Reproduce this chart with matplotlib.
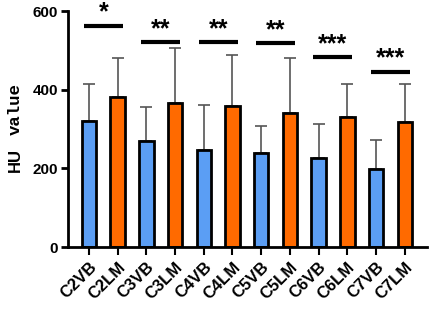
import matplotlib
matplotlib.use("Agg")
import matplotlib.pyplot as plt
import numpy as np

labels = ["C2VB", "C2LM", "C3VB", "C3LM", "C4VB", "C4LM",
          "C5VB", "C5LM", "C6VB", "C6LM", "C7VB", "C7LM"]
means = [320, 381, 269, 366, 247, 358, 239, 341, 226, 330, 198, 318]
err_top = [414, 480, 356, 506, 361, 488, 307, 480, 313, 414, 272, 414]

# significance: (left bar, right bar, line height, stars)
sig_pairs = [(0, 1), (2, 3), (4, 5), (6, 7), (8, 9), (10, 11)]
sig_heights = [562, 521, 521, 518, 483, 445]
sig_stars = ["*", "**", "**", "**", "***", "***"]

blue = "#5b9ef4"
orange = "#ff6a00"
colors = [blue if l.endswith("VB") else orange for l in labels]

plt.rcParams['font.family'] = ['Liberation Sans', 'DejaVu Sans']

fig = plt.figure(figsize=(4.29, 3.10), dpi=100)
ax = fig.add_axes([0.1585, 0.2032, 0.8365, 0.7613])

x = np.arange(len(labels))
errs = np.array(err_top) - np.array(means)
ax.errorbar(x, means, yerr=[np.zeros(len(x)), errs], fmt='none',
            ecolor='#555555', elinewidth=1.2, capsize=4, capthick=1.2, zorder=1)
ax.bar(x, means, width=0.5, color=colors, edgecolor='black', linewidth=2, zorder=2)

for (a, b), h, s in zip(sig_pairs, sig_heights, sig_stars):
    ax.plot([a - 0.18, b + 0.18], [h, h], color='black', lw=3, solid_capstyle='butt', clip_on=False)
    ax.text((a + b) / 2, h + 3, s, ha='center', va='bottom', fontsize=18,
            fontweight='bold', clip_on=False)

ax.set_xlim(-0.73, 11.77)
ax.set_ylim(0, 600)
ax.set_yticks([0, 200, 400, 600])
ax.set_xticks(x)
ax.set_xticklabels(labels, rotation=45, ha='right', rotation_mode='anchor',
                   fontsize=12, fontweight='bold')
for t in ax.get_yticklabels():
    t.set_fontweight('bold')
    t.set_fontsize(11)
ax.tick_params(axis='y', length=5, width=2, pad=2)
ax.tick_params(axis='x', length=6, width=1.5, pad=3)
ax.spines['top'].set_visible(False)
ax.spines['right'].set_visible(False)
ax.spines['left'].set_linewidth(2)
ax.spines['bottom'].set_linewidth(2)

# y label: "HU" sans bold + "value" in a typewriter face
fig.text(0.035, 0.445, "HU", rotation=90, ha='center', va='bottom',
         fontsize=12, fontweight='bold')
fig.text(0.035, 0.565, "value", rotation=90, ha='center', va='bottom',
         fontsize=12.5, family='Liberation Mono', fontweight='bold')

fig.savefig("out.png", dpi=100)
